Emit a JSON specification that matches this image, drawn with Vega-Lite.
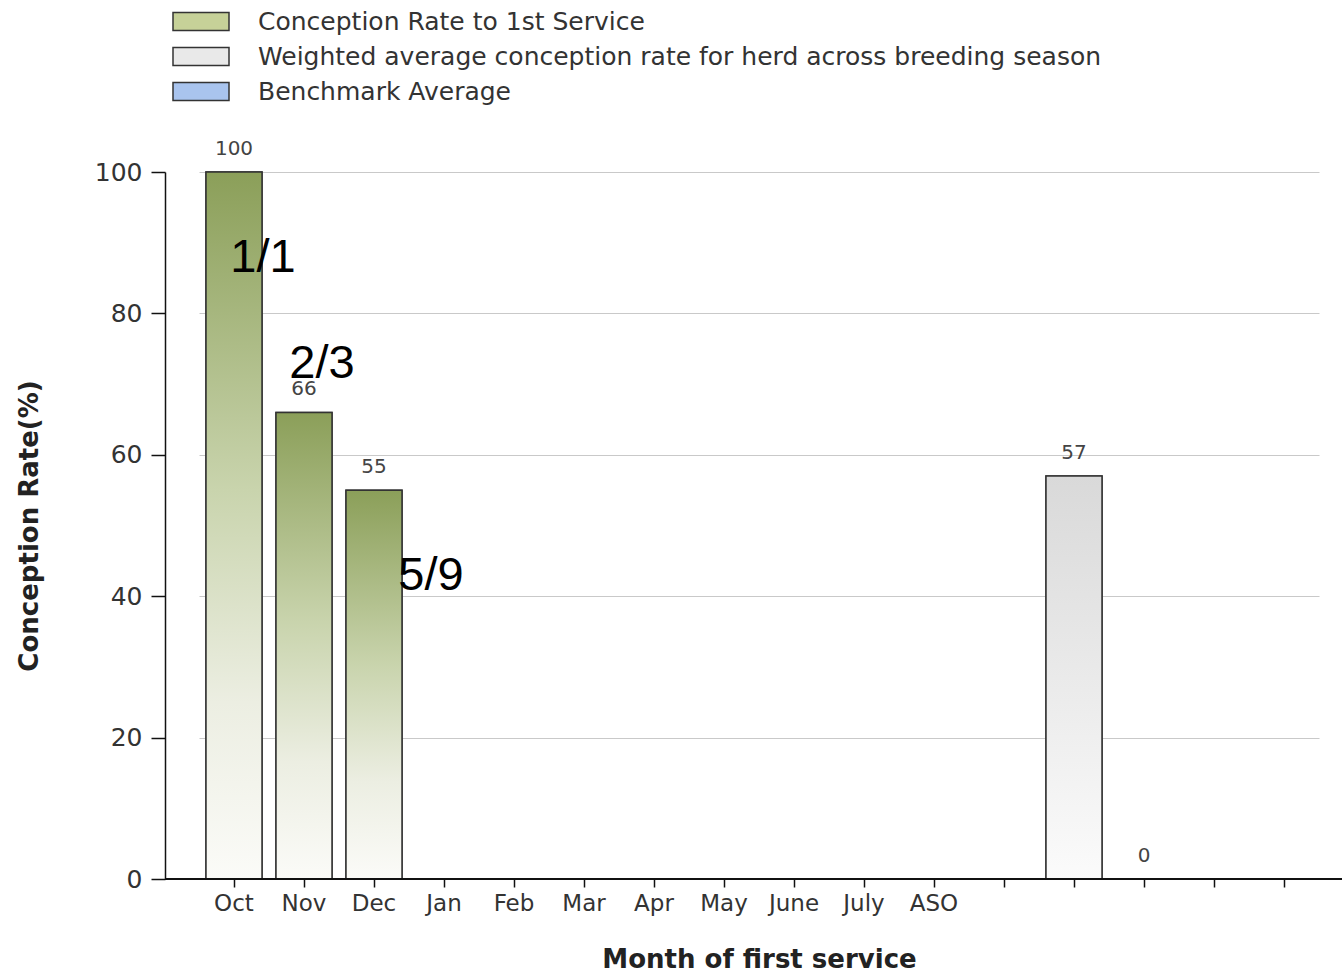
{
  "$schema": "https://vega.github.io/schema/vega-lite/v6.json",
  "autosize": {"type": "none"},
  "padding": {"left": 165, "top": 172, "right": 0, "bottom": 95},
  "width": 1177,
  "height": 707,
  "background": "#ffffff",
  "config": {
    "font": "DejaVu Sans",
    "view": {"stroke": null},
    "axis": {"labelFont": "DejaVu Sans", "titleFont": "DejaVu Sans", "labelColor": "#333333", "titleColor": "#222222"}
  },
  "data": {
    "values": [
      {"slot": "Oct", "series": "Conception Rate to 1st Service", "rate": 100, "fraction": "1/1"},
      {"slot": "Nov", "series": "Conception Rate to 1st Service", "rate": 66, "fraction": "2/3"},
      {"slot": "Dec", "series": "Conception Rate to 1st Service", "rate": 55, "fraction": "5/9"},
      {"slot": "Weighted", "series": "Weighted average conception rate for herd across breeding season", "rate": 57},
      {"slot": "Benchmark", "series": "Benchmark Average", "rate": 0}
    ]
  },
  "encoding": {
    "x": {
      "field": "slot",
      "type": "nominal",
      "sort": null,
      "scale": {
        "domain": ["Oct", "Nov", "Dec", "Jan", "Feb", "Mar", "Apr", "May", "June", "July", "ASO", "gap1", "Weighted", "Benchmark", "gap2", "gap3"],
        "range": [34, 1154],
        "paddingInner": 0.2,
        "paddingOuter": 0.1
      },
      "axis": {
        "title": "Month of first service",
        "titleFontSize": 26,
        "titleFontWeight": "bold",
        "titlePadding": 31,
        "labelAngle": 0,
        "labelFontSize": 23,
        "labelPadding": 5,
        "labelExpr": "test(/^(gap|Weighted|Benchmark)/, datum.value) ? '' : datum.value",
        "domain": false,
        "ticks": true,
        "tickColor": "#111111",
        "tickWidth": 1.5,
        "tickSize": 8,
        "grid": false
      }
    },
    "y": {
      "field": "rate",
      "type": "quantitative",
      "scale": {"domain": [0, 100], "nice": false},
      "axis": {
        "title": "Conception Rate(%)",
        "titleFontSize": 26,
        "titleFontWeight": "bold",
        "titlePadding": 52,
        "values": [0, 20, 40, 60, 80, 100],
        "labelFontSize": 25,
        "labelPadding": 9,
        "tickSize": 14,
        "tickColor": "#111111",
        "tickWidth": 1.5,
        "domainColor": "#111111",
        "domainWidth": 1.5,
        "grid": true,
        "gridColor": "#c9c9c9",
        "gridWidth": 1.2
      }
    }
  },
  "layer": [
    {
      "mark": {"type": "bar", "stroke": "#333333", "strokeWidth": 1.5},
      "encoding": {
        "color": {
          "field": "series",
          "type": "nominal",
          "scale": {
            "domain": ["Conception Rate to 1st Service", "Weighted average conception rate for herd across breeding season", "Benchmark Average"],
            "range": ["#c6d198", "#e9e9e9", "#a9c4ee"]
          },
          "legend": {
            "title": null,
            "orient": "none",
            "legendX": 7,
            "legendY": -168,
            "direction": "vertical",
            "symbolType": "M-1,-0.32L1,-0.32L1,0.32L-1,0.32Z",
            "symbolSize": 3136,
            "symbolStrokeColor": "#333333",
            "symbolStrokeWidth": 1.5,
            "symbolOpacity": 1,
            "labelFont": "DejaVu Sans",
            "labelFontSize": 25,
            "labelColor": "#333333",
            "labelOffset": 28,
            "labelLimit": 1000,
            "clipHeight": 35,
            "rowPadding": 0
          }
        }
      }
    },
    {
      "transform": [{"filter": "datum.series === 'Conception Rate to 1st Service'"}],
      "mark": {
        "type": "bar",
        "stroke": "#333333",
        "strokeWidth": 1.5,
        "fill": {
          "gradient": "linear", "x1": 0, "y1": 0, "x2": 0, "y2": 1,
          "stops": [
            {"offset": 0, "color": "#8b9f59"},
            {"offset": 0.45, "color": "#c9d4ad"},
            {"offset": 0.75, "color": "#eceee2"},
            {"offset": 1, "color": "#fbfbf8"}
          ]
        }
      }
    },
    {
      "transform": [{"filter": "datum.slot === 'Weighted'"}],
      "mark": {
        "type": "bar",
        "stroke": "#333333",
        "strokeWidth": 1.5,
        "fill": {
          "gradient": "linear", "x1": 0, "y1": 0, "x2": 0, "y2": 1,
          "stops": [
            {"offset": 0, "color": "#d9d9d9"},
            {"offset": 1, "color": "#fbfbfb"}
          ]
        }
      }
    },
    {
      "mark": {"type": "rule", "stroke": "#111111", "strokeWidth": 2.2},
      "encoding": {"x": {"value": 0}, "x2": {"value": 1177}, "y": {"datum": 0}}
    },
    {
      "mark": {"type": "text", "baseline": "middle", "dy": -23, "fontSize": 20, "color": "#444444", "font": "DejaVu Sans"},
      "encoding": {"text": {"field": "rate", "type": "quantitative"}}
    },
    {
      "transform": [{"filter": "datum.slot === 'Oct'"}],
      "mark": {"type": "text", "baseline": "middle", "dx": 29, "dy": 86, "fontSize": 47, "color": "#000000", "font": "Liberation Sans"},
      "encoding": {"text": {"field": "fraction"}}
    },
    {
      "transform": [{"filter": "datum.slot === 'Nov'"}],
      "mark": {"type": "text", "baseline": "middle", "dx": 18, "dy": -48, "fontSize": 47, "color": "#000000", "font": "Liberation Sans"},
      "encoding": {"text": {"field": "fraction"}}
    },
    {
      "transform": [{"filter": "datum.slot === 'Dec'"}],
      "mark": {"type": "text", "baseline": "middle", "dx": 57, "dy": 86, "fontSize": 47, "color": "#000000", "font": "Liberation Sans"},
      "encoding": {"text": {"field": "fraction"}}
    }
  ]
}
